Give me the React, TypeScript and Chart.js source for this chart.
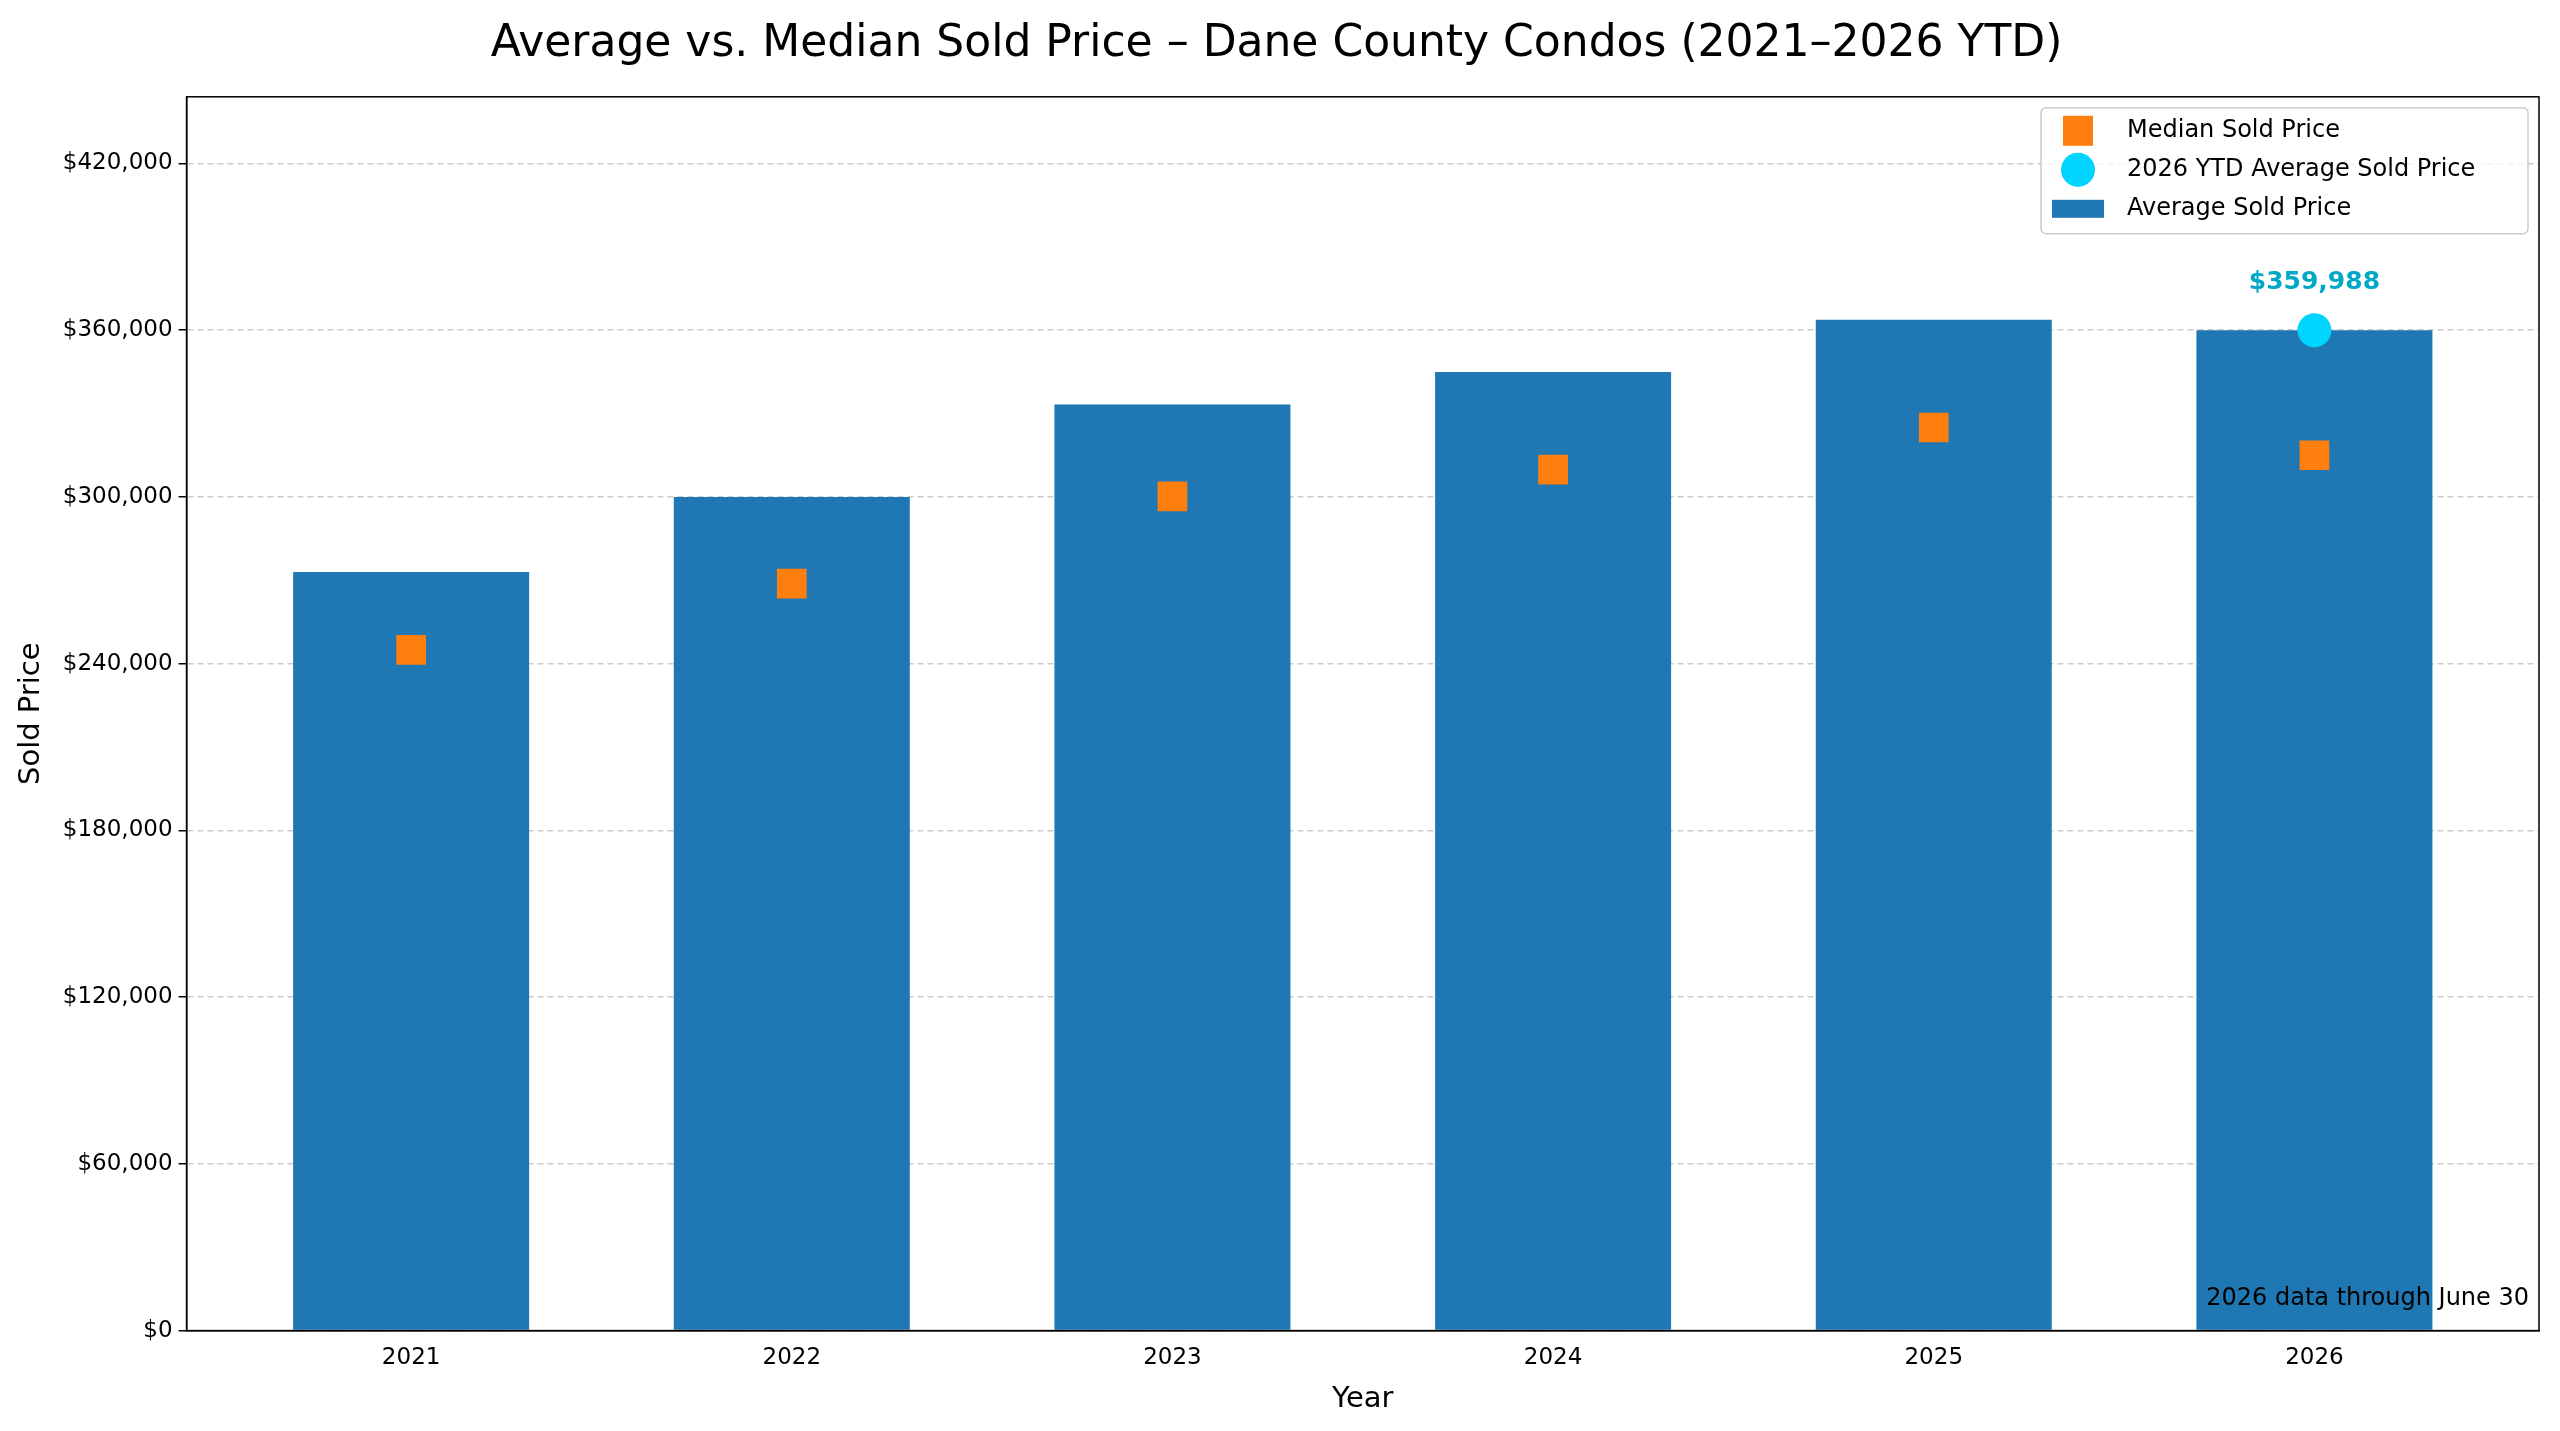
import React, { useEffect, useRef } from "react";
import { Chart, registerables } from "chart.js";
Chart.register(...registerables);

const years = [2021, 2022, 2023, 2024, 2025, 2026];
const averagePrices = [273000, 300000, 333300, 345000, 363800, 359988];
const medianPrices = [245000, 268800, 300200, 309800, 325000, 315000];
const ytdAverage = [359988];
const yTicks = [0, 60000, 120000, 180000, 240000, 300000, 360000, 420000];

const FONT = "'DejaVu Sans', sans-serif";
const fmt = (v: number) => "$" + v.toLocaleString("en-US");

const overlay = {
  id: "overlay",
  afterDraw(chart: any) {
    const ctx = chart.ctx;
    const ca = chart.chartArea;
    const xs = chart.scales.x, ys = chart.scales.y;
    ctx.save();
    ctx.fillStyle = "#00a8c8";
    ctx.font = `bold 25px ${FONT}`;
    ctx.textAlign = "center";
    ctx.textBaseline = "middle";
    ctx.fillText(fmt(ytdAverage[0]), xs.getPixelForValue(2026), ys.getPixelForValue(ytdAverage[0]) - 48);
    ctx.fillStyle = "#000";
    ctx.font = `24px ${FONT}`;
    ctx.textAlign = "right";
    ctx.fillText("2026 data through June 30", ca.right - 10, ca.bottom - 32);
    const lx = ca.right - 498, ly = ca.top + 11, lw = 487, lh = 126;
    ctx.fillStyle = "rgba(255,255,255,0.8)";
    ctx.strokeStyle = "#cccccc";
    ctx.lineWidth = 1.5;
    ctx.beginPath();
    ctx.roundRect(lx, ly, lw, lh, 5);
    ctx.fill();
    ctx.stroke();
    const items = ["Median Sold Price", "2026 YTD Average Sold Price", "Average Sold Price"];
    items.forEach((t, i) => {
      const cy = ly + 23 + i * 39;
      const mx = lx + 37;
      if (i === 0) {
        ctx.fillStyle = "#ff7f0e";
        ctx.fillRect(mx - 15, cy - 15, 30, 30);
      } else if (i === 1) {
        ctx.fillStyle = "#00d4ff";
        ctx.beginPath();
        ctx.arc(mx, cy, 17, 0, Math.PI * 2);
        ctx.fill();
      } else {
        ctx.fillStyle = "#1f77b4";
        ctx.fillRect(mx - 26, cy - 9, 52, 18);
      }
      ctx.fillStyle = "#000";
      ctx.font = `24px ${FONT}`;
      ctx.textAlign = "left";
      ctx.fillText(t, lx + 86, cy);
    });
    ctx.restore();
  },
};

export default function App() {
  const ref = useRef<HTMLCanvasElement>(null);
  useEffect(() => {
    const chart = new Chart(ref.current!, {
      type: "bar",
      data: {
        datasets: [
          {
            type: "scatter",
            label: "2026 YTD Average Sold Price",
            data: ytdAverage.map((v) => ({ x: 2026, y: v })),
            backgroundColor: "#00d4ff",
            borderWidth: 0,
            pointStyle: "circle",
            pointRadius: 17,
            order: 0,
          } as any,
          {
            type: "scatter",
            label: "Median Sold Price",
            data: years.map((y, i) => ({ x: y, y: medianPrices[i] })),
            backgroundColor: "#ff7f0e",
            borderWidth: 0,
            pointStyle: "rect",
            pointRadius: 21,
            order: 1,
          } as any,
          {
            type: "bar",
            label: "Average Sold Price",
            data: years.map((y, i) => ({ x: y, y: averagePrices[i] })),
            backgroundColor: "#1f77b4",
            barPercentage: 0.62,
            categoryPercentage: 1,
            order: 2,
          } as any,
        ],
      },
      options: {
        animation: false,
        responsive: false,
        layout: { padding: { left: 10, right: 17, top: 10, bottom: 10 } },
        plugins: {
          legend: { display: false },
          tooltip: { enabled: false },
          title: {
            display: true,
            text: "Average vs. Median Sold Price – Dane County Condos (2021–2026 YTD)",
            font: { family: FONT, size: 44, weight: "normal" },
            color: "#000",
            padding: { top: 8, bottom: 26 },
          },
        },
        scales: {
          x: {
            type: "linear",
            offset: false,
            min: 2020.41,
            max: 2026.59,
            afterBuildTicks: (s: any) => { s.ticks = years.map((v) => ({ value: v })); },
            ticks: { color: "#000", font: { family: FONT, size: 23 }, callback: (v: any) => String(v), padding: 6 },
            grid: { display: false, drawTicks: true, tickLength: 8, tickColor: "#000", offset: false } as any,
            border: { color: "#000", width: 1.5 },
            title: { display: true, text: "Year", color: "#000", font: { family: FONT, size: 29 }, padding: { top: 4 } },
          },
          y: {
            min: 0,
            max: 444000,
            afterBuildTicks: (s: any) => { s.ticks = yTicks.map((v) => ({ value: v })); },
            ticks: { color: "#000", font: { family: FONT, size: 23 }, callback: (v: any) => fmt(Number(v)), padding: 6 },
            grid: { color: "#cccccc", lineWidth: 1.5, tickColor: "#000", tickLength: 8 } as any,
            border: { color: "#000", width: 1.5, dash: [6, 4] } as any,
            title: { display: true, text: "Sold Price", color: "#000", font: { family: FONT, size: 29 }, padding: { bottom: 8 } },
          },
        },
      } as any,
      plugins: [
        overlay,
        {
          id: "frame",
          afterDraw(c: any) {
            const { ctx, chartArea: a } = c;
            ctx.save();
            ctx.strokeStyle = "#000";
            ctx.lineWidth = 1.5;
            ctx.strokeRect(a.left, a.top, a.right - a.left, a.bottom - a.top);
            ctx.restore();
          },
        },
      ],
    });
    return () => chart.destroy();
  }, []);
  return (
    <div style={{ position: "fixed", left: 0, top: 0, width: 2560, height: 1431, background: "#fff" }}>
      <canvas ref={ref} width={2560} height={1431} />
    </div>
  );
}
